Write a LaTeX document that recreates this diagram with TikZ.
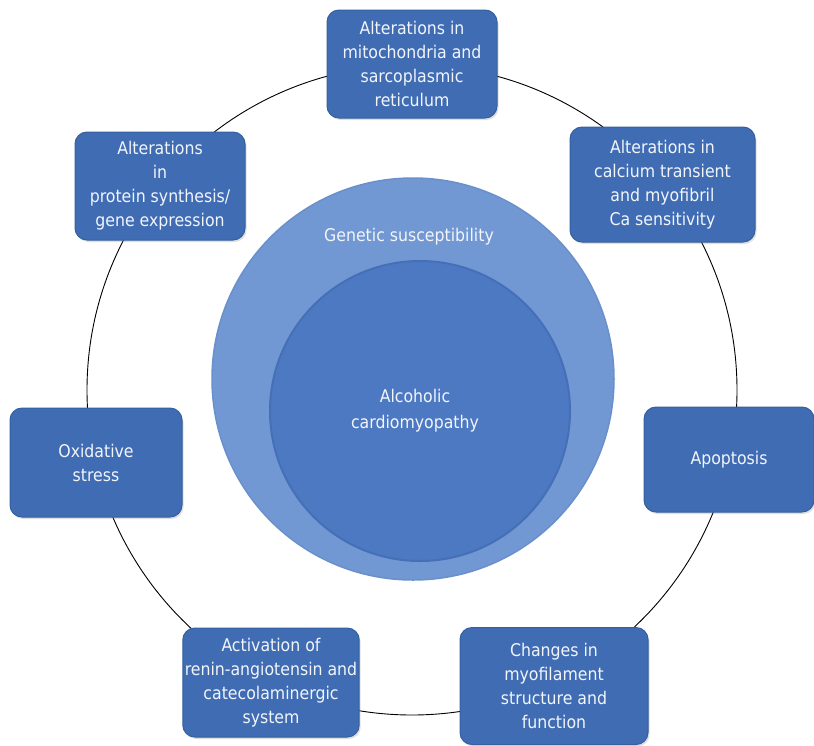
\documentclass[tikz,border=0pt]{standalone}
\usepackage{fontspec}
\setmainfont{DejaVu Sans Condensed}
\usetikzlibrary{shadows}
\definecolor{boxfill}{HTML}{3F6CB3}
\definecolor{boxedge}{HTML}{34609F}
\definecolor{outerfill}{HTML}{7198D3}
\definecolor{outeredge}{HTML}{6A90CB}
\definecolor{innerfill}{HTML}{4D79C2}
\definecolor{inneredge}{HTML}{4570B8}
\definecolor{txt}{HTML}{F2F5FA}
\tikzset{
  stepbox/.style={rectangle, rounded corners=12pt, fill=boxfill, draw=boxedge, line width=1pt,
    text=txt, align=center, font=\fontsize{17.5}{24}\selectfont, inner sep=2pt,
    drop shadow={opacity=0.25, shadow xshift=1.5pt, shadow yshift=-2pt}},
  ringline/.style={draw=black, line width=0.9pt},
  bigtext/.style={text=txt, align=center, font=\fontsize{17.5}{26}\selectfont}
}
\begin{document}
\begin{tikzpicture}[x=1pt,y=-1pt]
\useasboundingbox (0,0) rectangle (814,745);
% ring
\node[circle, ringline, minimum size=650pt, inner sep=0pt] (ring) at (412,390) {};
% central circles
\node[circle, fill=outerfill, draw=outeredge, line width=1.5pt, minimum size=402pt, inner sep=0pt] (outer) at (413,379) {};
\node[circle, fill=innerfill, draw=inneredge, line width=2pt, minimum size=300pt, inner sep=0pt] (inner) at (420,411) {};
\node[bigtext] (gen) at (409,237) {Genetic susceptibility};
\node[bigtext] (acm) at (415,411) {Alcoholic\\cardiomyopathy};
% boxes
\node[stepbox, minimum width=170pt, minimum height=108pt] (b1) at (412,64) {Alterations in\\mitochondria and\\sarcoplasmic\\reticulum};
\node[stepbox, minimum width=185pt, minimum height=115pt] (b2) at (662.5,184.5) {Alterations in\\calcium transient\\and myofibril\\Ca sensitivity};
\node[stepbox, minimum width=170pt, minimum height=105pt] (b3) at (729,459.5) {Apoptosis};
\node[stepbox, minimum width=188pt, minimum height=117pt] (b4) at (554,686) {Changes in\\myofilament\\structure and\\function};
\node[stepbox, minimum width=172pt, minimum height=109pt] (b5) at (271,682.5) {Activation of\\renin-angiotensin and\\catecolaminergic\\system};
\node[stepbox, minimum width=172pt, minimum height=109pt] (b6) at (96,462.5) {Oxidative\\stress};
\node[stepbox, minimum width=170pt, minimum height=108pt] (b7) at (160,186) {Alterations\\in\\protein synthesis/\\gene expression};
\end{tikzpicture}
\end{document}
